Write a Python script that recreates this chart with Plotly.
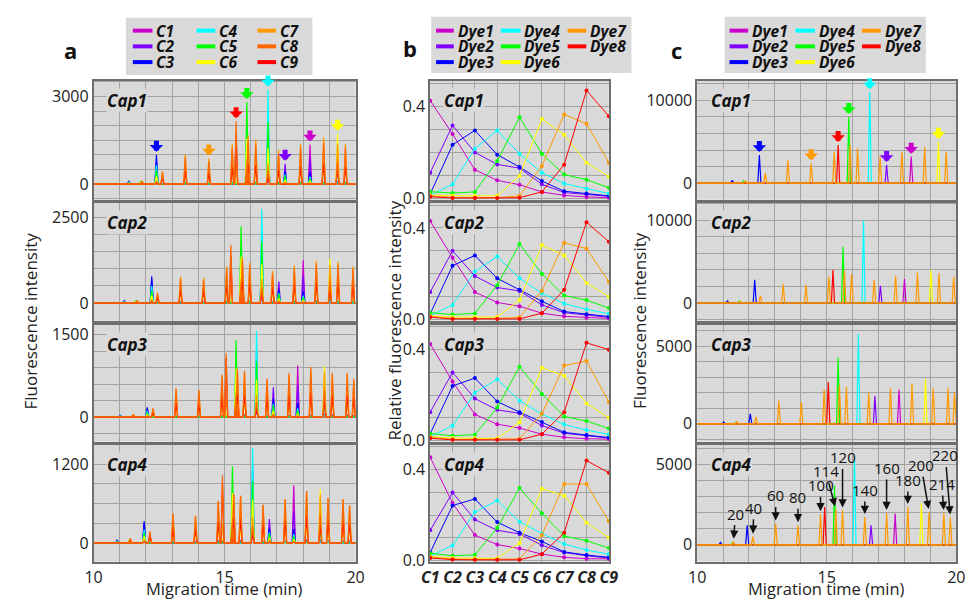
import plotly.graph_objects as go

W, H = 973, 601
FONT = "Open Sans"

# ---------------- data ----------------
channels = ['C1', 'C2', 'C3', 'C4', 'C5', 'C6', 'C7', 'C8', 'C9']
channel_colors = ['#cc00cc', '#7f00ff', '#0000ff', '#00ffff', '#00ff00',
                  '#ffff00', '#ff9900', '#ff6600', '#ff0000']
dyes = ['Dye1', 'Dye2', 'Dye3', 'Dye4', 'Dye5', 'Dye6', 'Dye7', 'Dye8']
dye_colors = ['#cc00cc', '#7f00ff', '#0000ff', '#00ffff', '#00ff00',
              '#ffff00', '#ff9900', '#ff0000']
caps = ['Cap1', 'Cap2', 'Cap3', 'Cap4']

# (b) relative fluorescence intensity: rows Dye1..Dye8, columns C1..C9
spectrum_cap1 = [
    [0.424, 0.28, 0.125, 0.079, 0.06, 0.029, 0.014, 0.007, 0.004],
    [0.112, 0.317, 0.20, 0.148, 0.132, 0.062, 0.026, 0.019, 0.01],
    [0.02, 0.233, 0.295, 0.19, 0.137, 0.076, 0.032, 0.022, 0.012],
    [0.015, 0.062, 0.216, 0.295, 0.194, 0.112, 0.065, 0.043, 0.022],
    [0.03, 0.024, 0.029, 0.163, 0.352, 0.194, 0.104, 0.082, 0.047],
    [0.015, 0.012, 0.012, 0.012, 0.098, 0.345, 0.276, 0.155, 0.096],
    [0.012, 0.005, 0.004, 0.004, 0.012, 0.141, 0.364, 0.324, 0.155],
    [0.008, 0.003, 0.003, 0.003, 0.004, 0.029, 0.147, 0.468, 0.357],
]
spectrum_cap2 = [
    [0.43, 0.27, 0.12, 0.075, 0.058, 0.028, 0.014, 0.008, 0.005],
    [0.12, 0.30, 0.19, 0.14, 0.125, 0.064, 0.03, 0.02, 0.01],
    [0.025, 0.235, 0.28, 0.18, 0.13, 0.08, 0.035, 0.023, 0.013],
    [0.017, 0.064, 0.21, 0.275, 0.18, 0.115, 0.07, 0.045, 0.025],
    [0.03, 0.022, 0.027, 0.15, 0.33, 0.20, 0.105, 0.085, 0.05],
    [0.016, 0.011, 0.011, 0.011, 0.085, 0.325, 0.28, 0.16, 0.10],
    [0.014, 0.005, 0.005, 0.005, 0.01, 0.125, 0.335, 0.31, 0.165],
    [0.01, 0.003, 0.003, 0.003, 0.003, 0.028, 0.13, 0.425, 0.34],
]
spectrum_cap3 = [
    [0.425, 0.26, 0.115, 0.072, 0.055, 0.028, 0.014, 0.008, 0.006],
    [0.125, 0.30, 0.185, 0.135, 0.12, 0.066, 0.032, 0.02, 0.011],
    [0.03, 0.24, 0.275, 0.172, 0.125, 0.082, 0.036, 0.024, 0.013],
    [0.018, 0.065, 0.21, 0.27, 0.175, 0.117, 0.071, 0.046, 0.027],
    [0.031, 0.021, 0.026, 0.145, 0.325, 0.205, 0.106, 0.086, 0.053],
    [0.017, 0.011, 0.01, 0.01, 0.08, 0.32, 0.285, 0.163, 0.10],
    [0.015, 0.005, 0.005, 0.005, 0.008, 0.118, 0.33, 0.35, 0.17],
    [0.01, 0.003, 0.003, 0.003, 0.003, 0.028, 0.125, 0.43, 0.40],
]
spectrum_cap4 = [
    [0.454, 0.253, 0.112, 0.07, 0.053, 0.028, 0.014, 0.008, 0.007],
    [0.133, 0.299, 0.18, 0.133, 0.117, 0.067, 0.035, 0.021, 0.011],
    [0.035, 0.242, 0.271, 0.169, 0.122, 0.084, 0.038, 0.024, 0.014],
    [0.02, 0.066, 0.213, 0.264, 0.171, 0.119, 0.073, 0.046, 0.028],
    [0.032, 0.021, 0.025, 0.143, 0.319, 0.208, 0.108, 0.087, 0.055],
    [0.018, 0.011, 0.01, 0.01, 0.077, 0.316, 0.285, 0.166, 0.101],
    [0.016, 0.006, 0.005, 0.005, 0.007, 0.112, 0.337, 0.337, 0.173],
    [0.011, 0.004, 0.003, 0.003, 0.003, 0.028, 0.122, 0.44, 0.386],
]

# (c) dye-separated peaks: migration time (min), dye number, height
cap1_time = [11.35, 11.36, 11.80, 11.85, 12.40, 12.63, 13.50, 14.40, 15.29, 15.44,
             15.85, 15.90, 16.19, 16.66, 17.06, 17.31, 17.90, 18.26, 18.78, 19.31, 19.61]
cap1_dye = [3, 2, 5, 7, 3, 7, 7, 7, 7, 8, 5, 7, 7, 4, 7, 2, 7, 1, 7, 6, 7]
cap1_height = [350, 200, 300, 250, 3400, 1200, 2800, 2400, 3800, 4600,
               8000, 4600, 4200, 11000, 3200, 2200, 3800, 3200, 4400, 5000, 3800]

cap2_time = [11.17, 11.62, 11.66, 12.22, 12.44, 13.32, 14.20, 15.08, 15.24, 15.63,
             15.68, 15.96, 16.42, 16.83, 17.07, 17.66, 18.00, 18.50, 19.02, 19.33, 19.90]
cap2_dye = [3, 5, 7, 3, 7, 7, 7, 7, 8, 5, 7, 7, 4, 7, 2, 7, 1, 7, 6, 7, 7]
cap2_height = [250, 250, 200, 2800, 900, 2300, 2200, 3200, 4000, 6800,
               4000, 3500, 10000, 2800, 2100, 3300, 2900, 3700, 4000, 3600, 3200]

cap3_time = [11.02, 11.50, 11.52, 12.05, 12.27, 13.15, 14.02, 14.90, 15.06, 15.44,
             15.49, 15.76, 16.22, 16.62, 16.86, 17.46, 17.79, 18.29, 18.81, 19.11, 19.68, 19.93]
cap3_dye = [3, 5, 7, 3, 7, 7, 7, 7, 8, 5, 7, 7, 4, 7, 2, 7, 1, 7, 6, 7, 7, 7]
cap3_height = [120, 120, 150, 650, 450, 1500, 1400, 2200, 2700, 4300,
               2500, 2400, 5800, 2000, 1800, 2300, 2200, 2600, 2900, 2300, 2300, 2000]

cap4_time = [10.90, 11.37, 11.40, 11.93, 12.15, 13.03, 13.89, 14.76, 14.92, 15.30,
             15.35, 15.61, 16.07, 16.47, 16.71, 17.31, 17.64, 18.13, 18.65, 18.95, 19.52, 19.77]
cap4_dye = [3, 5, 7, 3, 7, 7, 7, 7, 8, 5, 7, 7, 4, 7, 2, 7, 1, 7, 6, 7, 7, 7]
cap4_height = [150, 150, 200, 1220, 510, 1330, 1220, 1900, 2350, 3670,
               2200, 2140, 5500, 1730, 1220, 1980, 1940, 2350, 2590, 2040, 1980, 1700]

# size-standard labels in c / Cap4 (Dye7 peaks)
ladder_sizes = ['20', '40', '60', '80', '100', '114', '120', '140', '160', '180', '200', '214', '220']
ladder_times = [11.40, 12.15, 13.03, 13.89, 14.76, 15.35, 15.61, 16.47, 17.31, 18.13, 18.95, 19.52, 19.77]

# coloured arrows in Cap1 (dye number, peak time)
marked_dyes = [3, 7, 8, 5, 4, 2, 1, 6]
marked_times = [12.40, 14.40, 15.44, 15.85, 16.66, 17.31, 18.26, 19.31]

# ---------------- layout geometry (pixels) ----------------
col_px = [(78, 345), (421, 603), (693, 957)]
row_px = [(73, 194), (197, 317), (321, 440), (443, 562)]

a_ranges = [[-540, 3540], [-517, 2931], [-446, 1679], [-285, 1500]]
a_ticks = [3000, 2500, 1500, 1200]
a_minor = [500, 500, 300, 300]
b_range = [-0.005, 0.51]
c_ranges = [[-2024, 12381], [-2143, 12143], [-1150, 6400], [-1040, 6220]]
c_ticks = [10000, 10000, 5000, 5000]
c_minor = [2000, 2000, 1000, 1000]

spectra = [spectrum_cap1, spectrum_cap2, spectrum_cap3, spectrum_cap4]
peak_t = [cap1_time, cap2_time, cap3_time, cap4_time]
peak_d = [cap1_dye, cap2_dye, cap3_dye, cap4_dye]
peak_h = [cap1_height, cap2_height, cap3_height, cap4_height]

BG = '#d9d9d9'
GRID = '#a3a3a3'
BORDER = '#6e6e6e'
HALF_W = 0.06


def px_x(p):
    return p / W


def px_y(p):
    return 1 - p / H


def peak_trace_xy(times, heights):
    order = sorted(range(len(times)), key=lambda i: times[i])
    xs, ys = [10.0], [0.0]
    for i in order:
        t, h = times[i], heights[i]
        xs += [t - HALF_W, t, t + HALF_W]
        ys += [0.0, h, 0.0]
    xs.append(20.0)
    ys.append(0.0)
    return xs, ys


fig = go.Figure()
layout = dict(width=W, height=H, margin=dict(l=0, r=0, t=0, b=0),
              paper_bgcolor='white', plot_bgcolor=BG, showlegend=False,
              font=dict(family=FONT, size=16, color='#222222'))
annotations = []
shapes = []

axis_common = dict(showline=True, linecolor=BORDER, linewidth=1.5, mirror=True,
                   gridcolor=GRID, gridwidth=1, zeroline=False, ticks='',
                   tickfont=dict(family=FONT, size=16, color='#222222'))

for r in range(4):
    for c in range(3):
        idx = r * 3 + c + 1
        xa = 'x' if idx == 1 else f'x{idx}'
        ya = 'y' if idx == 1 else f'y{idx}'
        xkey = 'xaxis' if idx == 1 else f'xaxis{idx}'
        ykey = 'yaxis' if idx == 1 else f'yaxis{idx}'
        x0, x1 = col_px[c]
        y0, y1 = row_px[r]
        xdom = [px_x(x0), px_x(x1)]
        ydom = [px_y(y1), px_y(y0)]
        bottom = (r == 3)
        if c == 1:
            layout[xkey] = dict(axis_common, domain=xdom, anchor=ya, range=[1, 9],
                                tickvals=list(range(1, 10)),
                                ticktext=[f'<b><i>{n}</i></b>' for n in channels],
                                showticklabels=bottom, showgrid=True)
            layout[ykey] = dict(axis_common, domain=ydom, anchor=xa, range=b_range,
                                tickvals=[0, 0.4], ticktext=['0.0', '0.4'], showgrid=True,
                                minor=dict(dtick=0.1, showgrid=True, gridcolor=GRID, ticks=''))
        else:
            rng = a_ranges[r] if c == 0 else c_ranges[r]
            top = a_ticks[r] if c == 0 else c_ticks[r]
            mdt = a_minor[r] if c == 0 else c_minor[r]
            layout[xkey] = dict(axis_common, domain=xdom, anchor=ya, range=[10, 20],
                                tickvals=[10, 15, 20], ticktext=['10', '15', '20'],
                                showticklabels=bottom, showgrid=True,
                                minor=dict(dtick=1, showgrid=True, gridcolor=GRID, ticks=''))
            layout[ykey] = dict(axis_common, domain=ydom, anchor=xa, range=rng,
                                tickvals=[0, top], ticktext=['0', str(top)], showgrid=True,
                                minor=dict(dtick=mdt, showgrid=True, gridcolor=GRID, ticks=''))

        # traces
        times, dnums, hts = peak_t[r], peak_d[r], peak_h[r]
        spec = spectra[r]
        if c == 0:
            order_ch = [0, 1, 2, 3, 4, 5, 6, 8, 7]
            for j in order_ch:
                ch_h = [h * spec[d - 1][j] for h, d in zip(hts, dnums)]
                xs, ys = peak_trace_xy(times, ch_h)
                fig.add_trace(go.Scatter(x=xs, y=ys, mode='lines', xaxis=xa, yaxis=ya,
                                         line=dict(color=channel_colors[j], width=1.2),
                                         name=channels[j]))
        elif c == 1:
            for k in range(8):
                fig.add_trace(go.Scatter(x=list(range(1, 10)), y=spec[k], mode='lines+markers',
                                         xaxis=xa, yaxis=ya, cliponaxis=False,
                                         line=dict(color=dye_colors[k], width=1),
                                         marker=dict(color=dye_colors[k], size=4),
                                         name=dyes[k]))
        else:
            for k in [0, 1, 2, 3, 4, 5, 7, 6]:
                sel = [i for i in range(len(times)) if dnums[i] == k + 1]
                xs, ys = peak_trace_xy([times[i] for i in sel], [hts[i] for i in sel])
                fig.add_trace(go.Scatter(x=xs, y=ys, mode='lines', xaxis=xa, yaxis=ya,
                                         line=dict(color=dye_colors[k], width=1.2),
                                         name=dyes[k]))

        # Cap label
        annotations.append(dict(text=f'<b><i>{caps[r]}</i></b>', xref=f'{xa} domain',
                                yref=f'{ya} domain', x=(13 / (x1 - x0)), y=1 - 20 / (y1 - y0),
                                xanchor='left', yanchor='middle', showarrow=False,
                                bgcolor=BG, font=dict(family=FONT, size=17, color='#111111'),
                                borderpad=0))

        # coloured arrows in Cap1
        if r == 0 and c in (0, 2):
            for d, t in zip(marked_dyes, marked_times):
                i = min(range(len(times)), key=lambda q: abs(times[q] - t) + (0 if dnums[q] == d else 99))
                if c == 0:
                    ytip = max(hts[i] * spec[d - 1][j] for j in range(9))
                else:
                    ytip = hts[i]
                annotations.append(dict(x=t, y=ytip, xref=xa, yref=ya, text=' ',
                                        font=dict(size=1), showarrow=True, arrowhead=1,
                                        arrowsize=0.45, arrowwidth=5, arrowcolor=dye_colors[d - 1],
                                        ax=0, ay=-16, standoff=3))

        # ladder labels in c / Cap4
        if r == 3 and c == 2:
            label_ax = [2, 1, 0, 0, 0, -10, 0, 0, 0, 0, -8, -2, -5]
            label_ay = [-28, -29, -28, -28, -29, -38, -53, -27, -45, -27, -47, -29, -62]
            for s, t, ax, ay in zip(ladder_sizes, ladder_times, label_ax, label_ay):
                i = min(range(len(times)), key=lambda q: abs(times[q] - t) + (0 if dnums[q] == 7 else 99))
                annotations.append(dict(x=t, y=hts[i], xref=xa, yref=ya, text=s,
                                        font=dict(family=FONT, size=15, color='#111111'),
                                        showarrow=True, arrowhead=2, arrowsize=1.1,
                                        arrowwidth=1.5, arrowcolor='#111111',
                                        ax=ax, ay=ay, standoff=3))

# panel letters
for letter, xp, yp in [('a', 55, 42), ('b', 400, 40), ('c', 672, 42)]:
    annotations.append(dict(text=f'<b>{letter}</b>', xref='paper', yref='paper',
                            x=px_x(xp), y=px_y(yp), showarrow=False,
                            xanchor='center', yanchor='middle',
                            font=dict(family=FONT, size=22, color='#111111')))

# axis titles
for txt, xp, yp, ang, fs in [('Fluorescence intensity', 14, 317, -90, 17),
                             ('Relative fluorescence intensity', 385, 317, -90, 17),
                             ('Fluorescence intensity', 634, 317, -90, 17),
                             ('Migration time (min)', 211, 589.5, 0, 16.5),
                             ('Migration time (min)', 825, 589.5, 0, 16.5)]:
    annotations.append(dict(text=txt, xref='paper', yref='paper', x=px_x(xp), y=px_y(yp),
                            showarrow=False, textangle=ang, xanchor='center', yanchor='middle',
                            font=dict(family=FONT, size=fs, color='#222222')))

# legends (drawn as boxes, swatches, labels)
legend_specs = [
    dict(box=(111, 9, 301, 67), names=channels, colors=channel_colors,
         sw=[(118, 138), (183, 202), (245, 264)]),
    dict(box=(422, 8, 626, 65), names=dyes, colors=dye_colors,
         sw=[(427, 445), (493, 513), (561, 580)]),
    dict(box=(721, 8, 926, 65), names=dyes, colors=dye_colors,
         sw=[(726, 745), (793, 813), (861, 880)]),
]
rows_y = [22, 38, 54]
for L in legend_specs:
    bx0, by0, bx1, by1 = L['box']
    shapes.append(dict(type='rect', xref='paper', yref='paper', x0=px_x(bx0), x1=px_x(bx1),
                       y0=px_y(by1), y1=px_y(by0), fillcolor=BG, line=dict(width=0), layer='below'))
    for n, (name, col) in enumerate(zip(L['names'], L['colors'])):
        cc, rr = n // 3, n % 3
        s0, s1 = L['sw'][cc]
        yy = rows_y[rr]
        shapes.append(dict(type='line', xref='paper', yref='paper', x0=px_x(s0), x1=px_x(s1),
                           y0=px_y(yy), y1=px_y(yy), line=dict(color=col, width=4)))
        annotations.append(dict(text=f'<b><i>{name}</i></b>', xref='paper', yref='paper',
                                x=px_x(s1 + 2), y=px_y(yy), xanchor='left', yanchor='middle',
                                showarrow=False, font=dict(family=FONT, size=15.5, color='#111111')))

layout['annotations'] = annotations
layout['shapes'] = shapes
fig.update_layout(**layout)
fig.write_html('out.html')
